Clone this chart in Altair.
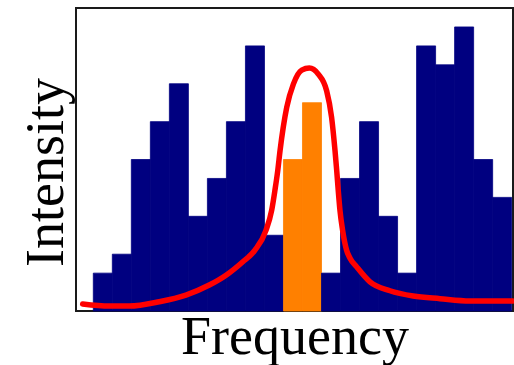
import altair as alt
import pandas as pd

# Histogram counts, one per frequency bin (bins are one unit wide, starting at 0)
counts = [2, 3, 8, 10, 12, 5, 7, 10, 14, 4, 8, 11, 2, 7, 10, 5, 2, 14, 13, 15, 8, 6]
# Bins that fall inside the resonance window
peak_bins = [10, 11]

# Fitted resonance curve, sampled along the frequency axis
curve_x = [-0.56, 0.84, 1.89, 3.47, 4.87, 6.10, 6.98, 7.85, 8.50, 9.08, 9.38, 9.55,
           9.70, 9.82, 10.17, 10.52, 10.96, 11.36, 11.83, 12.27, 12.53, 12.71, 12.80,
           12.88, 12.97, 13.11, 13.32, 13.50, 13.85, 14.55, 15.60, 16.82, 18.23,
           19.81, 22.05]
curve_y = [0.37, 0.26, 0.26, 0.49, 0.84, 1.37, 1.89, 2.59, 3.21, 4.26, 5.32, 6.37,
           7.42, 8.47, 10.75, 11.98, 12.72, 12.83, 12.51, 11.63, 10.23, 8.47, 7.42,
           6.37, 5.32, 4.26, 3.21, 2.79, 2.33, 1.54, 1.07, 0.79, 0.65,
           0.53, 0.53]

bins = pd.DataFrame({
    "x0": list(range(len(counts))),
    "x1": [i + 1 for i in range(len(counts))],
    "count": counts,
    "kind": ["peak" if i in peak_bins else "main" for i in range(len(counts))],
})
curve = pd.DataFrame({"f": curve_x, "I": curve_y})

xscale = alt.Scale(domain=[-0.91, 22.07], nice=False, zero=False)
yscale = alt.Scale(domain=[0, 16], nice=False)
kind_scale = alt.Scale(domain=["main", "peak"], range=["#000080", "#ff8000"])

x_axis = alt.Axis(title="Frequency", labels=False, ticks=False, domain=False, grid=False,
                  titleFont="Liberation Serif", titleFontSize=54, titleFontWeight="normal",
                  titleColor="#000", titleBaseline="alphabetic", titleY=42)
y_axis = alt.Axis(title="Intensity", labels=False, ticks=False, domain=False, grid=False,
                  titleFont="Liberation Serif", titleFontSize=54, titleFontWeight="normal",
                  titleColor="#000", titleAngle=-90, titleAlign="center",
                  titleBaseline="alphabetic", titleX=-14, titleY=164)

bars = alt.Chart(bins).mark_rect(strokeWidth=0.8).encode(
    x=alt.X("x0:Q", scale=xscale, axis=x_axis),
    x2="x1:Q",
    y=alt.Y("count:Q", scale=yscale, axis=y_axis),
    y2=alt.datum(0),
    color=alt.Color("kind:N", scale=kind_scale, legend=None),
    stroke=alt.Stroke("kind:N", scale=kind_scale, legend=None),
)

line = alt.Chart(curve).mark_line(color="#ff0000", strokeWidth=5.5,
                                  interpolate="monotone", strokeCap="round").encode(
    x=alt.X("f:Q", scale=xscale),
    y=alt.Y("I:Q", scale=yscale),
)

chart = alt.layer(bars, line).properties(
    width=437, height=303,
    autosize=alt.AutoSizeParams(type="none"),
    padding={"left": 76, "top": 8, "right": 1, "bottom": 54},
).configure(
    background="white",
    view=alt.ViewConfig(stroke="#1a1a1a", strokeWidth=2),
)

chart.save("out.html", embed_options={"renderer": "svg", "actions": False})
